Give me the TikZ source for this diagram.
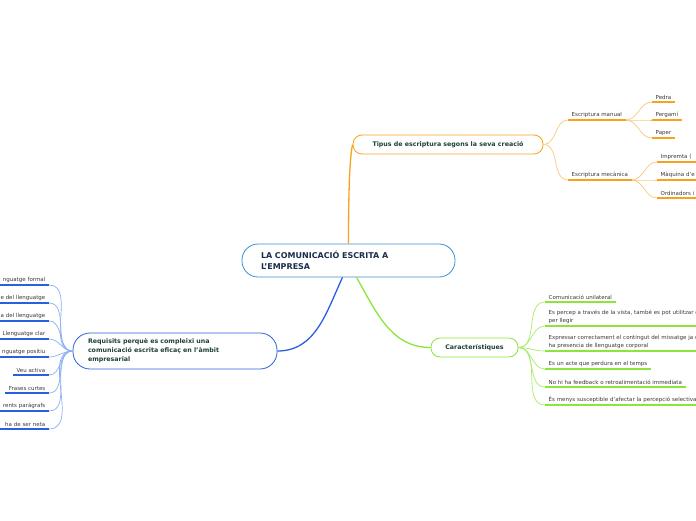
\documentclass[tikz,border=0pt]{standalone}
\usepackage{fontspec}
\setmainfont{DejaVu Sans}
\usetikzlibrary{positioning}
\definecolor{orangeline}{HTML}{F7A21E}
\definecolor{orangethin}{HTML}{FCC77A}
\definecolor{greenline}{HTML}{8CE53A}
\definecolor{greenthin}{HTML}{A8EC66}
\definecolor{reqline}{HTML}{2C5FE0}
\definecolor{reqthin}{HTML}{8EAFF2}
\definecolor{rootline}{HTML}{3A8FD3}
\definecolor{labeltext}{HTML}{383838}
\definecolor{maintext}{HTML}{1F4038}
\definecolor{roottext}{HTML}{1C2C4C}
\tikzset{
  rootbox/.style={draw=rootline, line width=0.8pt, rounded corners=16pt, fill=white,
    text width=175pt, align=left, inner xsep=19pt, minimum height=33pt,
    font=\fontsize{8}{11}\selectfont\bfseries, text=roottext},
  topic/.style={line width=0.8pt, rounded corners=9pt, fill=white, minimum height=19pt,
    font=\fontsize{6.3}{9}\selectfont\bfseries, text=maintext},
  leaf/.style={inner xsep=3.5pt, inner ysep=2.5pt, font=\fontsize{5.5}{8}\selectfont, text=labeltext},
  rightleaf/.style={leaf, anchor=south west, align=left},
  leftleaf/.style={leaf, anchor=south east, align=right},
  underline/.style={line width=1.5pt},
  thinlink/.style={line width=0.7pt}
}
\begin{document}
\begin{tikzpicture}[x=1pt,y=-1pt]
    \useasboundingbox (0,0) rectangle (696,520);
    \clip (0,0) rectangle (696,520);
    % central idea and main topics
    \node[rootbox] (root) at (348.5,260.5) {LA COMUNICACIÓ ESCRITA A\\L'EMPRESA};
    \node[topic, draw=orangeline, minimum width=190pt] (tipus) at (448,144.5) {Tipus de escriptura segons la seva creació};
    \node[topic, draw=greenline, minimum width=87pt] (carac) at (474.5,347.5) {Característiques};
    \node[topic, draw=reqline, text width=174pt, align=left, inner xsep=15pt, minimum height=36pt, rounded corners=17pt]
        (requisits) at (175,351) {Requisits perquè es compleixi una\\comunicació escrita eficaç en l'àmbit\\empresarial};
    % tipus
    \node[rightleaf] (manual) at (568,120) {Escriptura manual};
    \node[rightleaf] (mecanica) at (568,180) {Escriptura mecànica};
    \node[rightleaf] (pedra) at (652,102) {Pedra};
    \node[rightleaf] (pergami) at (652,120) {Pergamí};
    \node[rightleaf] (paper) at (652,138) {Paper};
    \node[rightleaf, text width=50pt] (impremta) at (657,162) {Impremta (};
    \node[rightleaf, text width=50pt] (maquina) at (657,180) {Màquina d'e};
    \node[rightleaf, text width=50pt] (ordinadors) at (657,198) {Ordinadors i};
    % caracteristiques
    \node[rightleaf] (unilateral) at (545,302) {Comunicació unilateral};
    \node[rightleaf, text width=170pt] (vista) at (545,326) {Es percep a través de la vista, també es pot utilitzar e\\per llegir};
    \node[rightleaf, text width=170pt] (missatge) at (545,351) {Expressar correctament el contingut del missatge ja q\\ha presencia de llenguatge corporal};
    \node[rightleaf] (temps) at (545,369) {Es un acte que perdura en el temps};
    \node[rightleaf] (feedback) at (545,387) {No hi ha feedback o retroalimentació immediata};
    \node[rightleaf, text width=170pt] (selectiva) at (545,405) {És menys susceptible d'afectar la percepció selectiva};
    % requisits
    \node[leftleaf, text width=60pt] (formal) at (49,285) {nguatge formal};
    \node[leftleaf, text width=60pt] (llenguatgeb) at (49,303) {e del llenguatge};
    \node[leftleaf, text width=60pt] (llenguatgec) at (49,321) {a del llenguatge};
    \node[leftleaf] (clar) at (49,339) {Llenguatge clar};
    \node[leftleaf, text width=60pt] (positiu) at (49,357) {nguatge positiu};
    \node[leftleaf] (activa) at (49,375) {Veu activa};
    \node[leftleaf] (curtes) at (49,393) {Frases curtes};
    \node[leftleaf, text width=60pt] (paragrafs) at (49,411) {rents paràgrafs};
    \node[leftleaf, text width=60pt] (neta) at (49,429) {ha de ser neta};
    % main links
    \draw[orangeline, line width=1.3pt] (root.north) .. controls +(0,-50) and +(-3,12) .. (tipus.west);
    \draw[greenline, line width=1.3pt] ([xshift=8pt]root.south) to[out=-60,in=180] (carac.west);
    \draw[reqline, line width=1.3pt] ([xshift=-6pt]root.south) to[out=-115,in=0] (requisits.east);
    % sub links and underlines
    \foreach \leaf in {manual,mecanica}
        \draw[orangethin, thinlink] (tipus.east) to[out=0,in=180] (\leaf.south west);
    \foreach \leaf in {pedra,pergami,paper}
        \draw[orangethin, thinlink] (manual.south east) to[out=0,in=180] (\leaf.south west);
    \foreach \leaf in {impremta,maquina,ordinadors}
        \draw[orangethin, thinlink] (mecanica.south east) to[out=0,in=180] (\leaf.south west);
    \foreach \leaf in {manual,mecanica,pedra,pergami,paper,impremta,maquina,ordinadors}
        \draw[orangeline, underline] (\leaf.south west) -- (\leaf.south east);
    \foreach \leaf in {unilateral,vista,missatge,temps,feedback,selectiva} {
        \draw[greenthin, thinlink] (carac.east) to[out=0,in=180] (\leaf.south west);
        \draw[greenline, underline] (\leaf.south west) -- (\leaf.south east);
    }
    \foreach \leaf in {formal,llenguatgeb,llenguatgec,clar,positiu,activa,curtes,paragrafs,neta} {
        \draw[reqthin, thinlink] (requisits.west) to[out=180,in=0] (\leaf.south east);
        \draw[reqline, underline] (\leaf.south west) -- (\leaf.south east);
    }
\end{tikzpicture}
\end{document}
